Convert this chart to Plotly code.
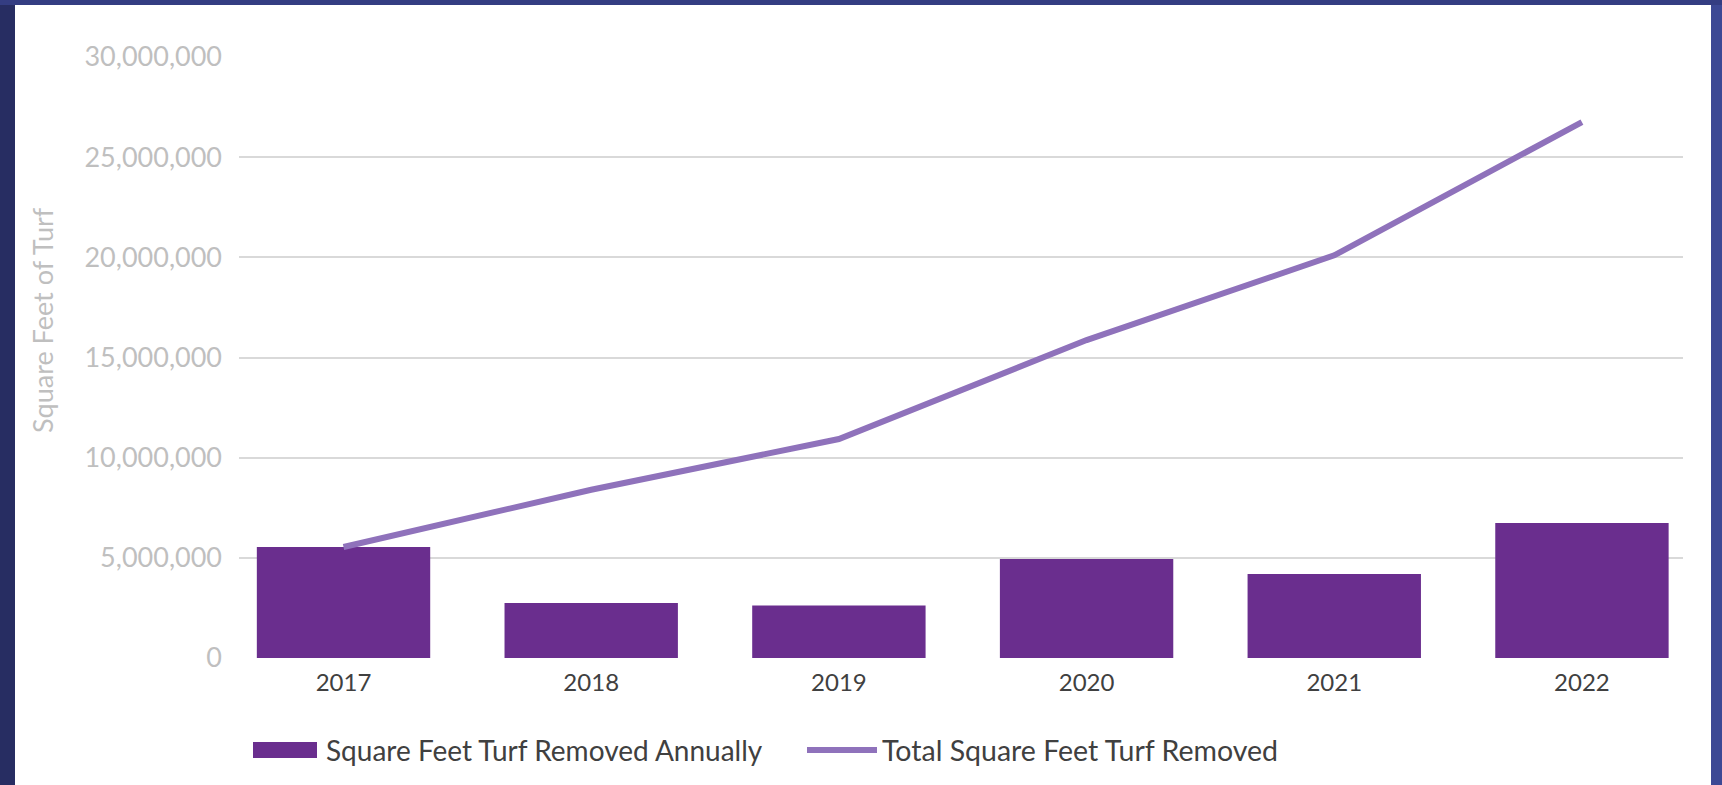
import plotly.graph_objects as go

years = ["2017", "2018", "2019", "2020", "2021", "2022"]
annual_removed = [5540000, 2740000, 2620000, 4940000, 4190000, 6740000]
total_removed = [5540000, 8400000, 10930000, 15870000, 20100000, 26750000]
y_ticks = [0, 5000000, 10000000, 15000000, 20000000, 25000000, 30000000]
bar_name = "Square Feet Turf Removed Annually"
line_name = "Total Square Feet Turf Removed"
y_title = "Square Feet of Turf"

BAR_COLOR = "#6a2e8e"
LINE_COLOR = "#8f72bb"
FONT = "Lato"

W, H = 1722, 785
L, R, T, B = 239, 1722 - 1683, 57, 785 - 658
pw, ph = W - L - R, H - T - B

def px(xpix):
    return (xpix - L) / pw

def py(ypix):
    return (H - B - ypix) / ph

xpos = list(range(len(years)))

fig = go.Figure()
fig.add_trace(go.Bar(x=xpos, y=annual_removed, name=bar_name, marker_color=BAR_COLOR,
                     marker_line_width=0, width=0.7, showlegend=False))
fig.add_trace(go.Scatter(x=xpos, y=total_removed, name=line_name, mode="lines",
                         line=dict(color=LINE_COLOR, width=6), showlegend=False))

shapes = [
    # white card
    dict(type="rect", xref="paper", yref="paper", x0=px(15), x1=px(1711), y0=py(H + 20), y1=py(5),
         fillcolor="white", line_width=0, layer="below"),
    # darker left border
    dict(type="rect", xref="paper", yref="paper", x0=px(-10), x1=px(15), y0=py(H + 20), y1=py(5),
         fillcolor="#272d62", line_width=0, layer="below"),
    # lighter right border
    dict(type="rect", xref="paper", yref="paper", x0=px(1711), x1=px(W + 10), y0=py(H + 20), y1=py(5),
         fillcolor="#3c4894", line_width=0, layer="below"),
    # legend swatches
    dict(type="rect", xref="paper", yref="paper", x0=px(253), x1=px(317), y0=py(758), y1=py(742),
         fillcolor=BAR_COLOR, line_width=0),
    dict(type="line", xref="paper", yref="paper", x0=px(807), x1=px(877), y0=py(750), y1=py(750),
         line=dict(color=LINE_COLOR, width=6)),
]

annotations = [
    dict(text=y_title, xref="paper", yref="paper", x=px(42), y=py(320), textangle=-90,
         showarrow=False, xanchor="center", yanchor="middle",
         font=dict(family=FONT, size=27, color="#bfbfbf")),
    dict(text=bar_name, xref="paper", yref="paper", x=px(324), y=py(750), showarrow=False,
         xanchor="left", yanchor="middle", font=dict(family=FONT, size=28, color="#404040")),
    dict(text=line_name, xref="paper", yref="paper", x=px(880), y=py(750), showarrow=False,
         xanchor="left", yanchor="middle", font=dict(family=FONT, size=28.5, color="#404040")),
]

fig.update_layout(
    width=W, height=H,
    margin=dict(l=L, r=R, t=T, b=B, pad=0),
    paper_bgcolor="#343d82",
    plot_bgcolor="white",
    font=dict(family=FONT),
    shapes=shapes,
    annotations=annotations,
    showlegend=False,
    bargap=0.3,
)
fig.update_xaxes(
    range=[-0.422, 5.408], tickmode="array", tickvals=xpos, ticktext=years,
    showgrid=False, zeroline=False, showline=False, ticks="",
    tickfont=dict(family=FONT, size=24, color="#404040"), ticklabelstandoff=8,
)
fig.update_yaxes(
    range=[0, 30000000], tickmode="array", tickvals=y_ticks,
    ticktext=[f"{v:,}" for v in y_ticks],
    showgrid=True, gridcolor="#d9d9d9", gridwidth=2, zeroline=False, showline=False, ticks="",
    tickfont=dict(family=FONT, size=27, color="#bfbfbf"), ticklabelstandoff=16,
)

fig.write_html("out.html", config={"displayModeBar": False},
               post_script="document.body.style.margin='0';")
